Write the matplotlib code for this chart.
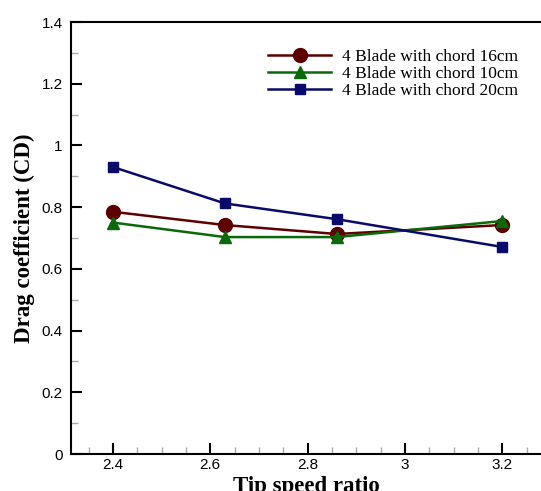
import matplotlib
matplotlib.use("Agg")
import matplotlib.pyplot as plt
from matplotlib.ticker import MultipleLocator

tsr = [2.4, 2.63, 2.86, 3.2]
cd_16cm = [0.785, 0.742, 0.713, 0.742]
cd_10cm = [0.75, 0.703, 0.703, 0.755]
cd_20cm = [0.93, 0.812, 0.761, 0.671]

labels = ["4 Blade with chord 16cm", "4 Blade with chord 10cm", "4 Blade with chord 20cm"]

W, H = 541, 491
fig = plt.figure(figsize=(W / 100, H / 100), dpi=100)
# right edge of the frame runs past the canvas
ax = fig.add_axes([71 / W, (H - 454) / H, (565 - 71) / W, (454 - 22) / H])

ax.plot(tsr, cd_16cm, color="#5c0000", lw=1.8, marker="o", ms=10, label=labels[0])
ax.plot(tsr, cd_10cm, color="#0a6a0a", lw=1.8, marker="^", ms=8.5, label=labels[1])
ax.plot(tsr, cd_20cm, color="#0a0a6a", lw=1.8, marker="s", ms=7.5, label=labels[2])

x0 = 2.4 - 42 / 486.5
ax.set_xlim(x0, x0 + (565 - 71) / 486.5)
ax.set_ylim(0, 1.4)

ax.xaxis.set_major_locator(MultipleLocator(0.2))
ax.xaxis.set_minor_locator(MultipleLocator(0.05))
ax.yaxis.set_major_locator(MultipleLocator(0.2))
ax.yaxis.set_minor_locator(MultipleLocator(0.1))
ax.xaxis.set_major_formatter(plt.FuncFormatter(lambda v, p: f"{v:g}"))
ax.yaxis.set_major_formatter(plt.FuncFormatter(lambda v, p: f"{v:g}"))

ax.tick_params(which="both", direction="in", top=False, right=False)
ax.tick_params(which="major", length=8, width=1.5, labelsize=11, pad=6)
ax.tick_params(axis="x", which="major", pad=3)
ax.tick_params(which="minor", length=5, width=1, color="#aaaaaa")
for lab in ax.get_xticklabels() + ax.get_yticklabels():
    lab.set_fontfamily("Liberation Sans")
for s in ax.spines.values():
    s.set_linewidth(1.5)

ax.set_xlabel("Tip speed ratio", fontsize=16.5, family="Liberation Serif",
              fontweight="bold")
ax.xaxis.set_label_coords((306 - 71) / (565 - 71), -0.05)
ax.xaxis.label.set_va("top")
ax.set_ylabel("Drag coefficient (CD)", fontsize=16.5, family="Liberation Serif",
              fontweight="bold", labelpad=5)

ax.legend(loc="upper left", bbox_to_anchor=(268 / W, 1 - 49 / H),
          bbox_transform=fig.transFigure, frameon=False, borderpad=0,
          borderaxespad=0, handlelength=3.65, handletextpad=0.6,
          labelspacing=0.05, prop={"family": "Liberation Serif", "size": 12.5})

fig.savefig("out.png", dpi=100)
